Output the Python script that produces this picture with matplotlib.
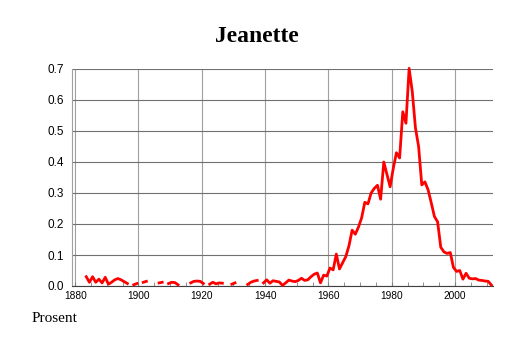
import numpy as np
from matplotlib import pyplot as plt
from matplotlib.ticker import MultipleLocator

###################DATA###################
title = "Jeanette"
ylabel = "Prosent"

years = np.arange(1880, 2012)
nan = np.nan
# share of girls given the name, in percent
percent = [
    nan, nan, nan, 0.030, 0.012, 0.030, 0.012, 0.022, 0.010, 0.028,   # 1880-1889
    0.006, 0.012, 0.020, 0.024, 0.020, 0.014, 0.008, nan, 0.004, 0.008,  # 1890-1899
    nan, 0.012, 0.015, nan, nan, nan, 0.010, 0.012, nan, 0.008,          # 1900-1909
    0.012, 0.011, 0.004, nan, nan, nan, 0.010, 0.015, 0.016, 0.015,      # 1910-1919
    0.008, nan, 0.006, 0.012, 0.007, 0.010, 0.009, nan, nan, 0.006,      # 1920-1929
    0.010, nan, nan, nan, 0.005, 0.012, 0.016, 0.018, nan, 0.010,        # 1930-1939
    0.020, 0.009, 0.017, 0.015, 0.013, 0.002, 0.010, 0.019, 0.016, 0.014,  # 1940-1949
    0.018, 0.025, 0.018, 0.020, 0.030, 0.038, 0.042, 0.010, 0.035, 0.032,  # 1950-1959
    0.058, 0.052, 0.103, 0.055, 0.075, 0.095, 0.130, 0.180, 0.167, 0.190,  # 1960-1969
    0.220, 0.270, 0.265, 0.300, 0.315, 0.325, 0.280, 0.400, 0.360, 0.320,  # 1970-1979
    0.380, 0.430, 0.413, 0.562, 0.525, 0.702, 0.627, 0.510, 0.450, 0.326,  # 1980-1989
    0.336, 0.310, 0.268, 0.224, 0.207, 0.125, 0.110, 0.105, 0.108, 0.060,  # 1990-1999
    0.047, 0.050, 0.022, 0.041, 0.025, 0.023, 0.024, 0.019, 0.018, 0.016,  # 2000-2009
    0.015, 0.003,                                                        # 2010-2011
]

###################PLOT###################
fig = plt.figure(figsize=(5.14, 3.43), dpi=100)
ax = fig.add_axes([72/514, 57/343, 421/514, 217/343])

# yearly values sit in the middle of each year
ax.plot(years + 0.5, percent, color='#ff0000', lw=2.0, clip_on=False, zorder=3)

ax.set_xlim(1879, 2012)
ax.set_ylim(0, 0.7)
ax.xaxis.set_major_locator(MultipleLocator(20))
ax.xaxis.set_minor_locator(MultipleLocator(5))
ax.yaxis.set_major_locator(MultipleLocator(0.1))
ax.set_yticklabels(["%.1f" % v for v in ax.get_yticks()])

ax.grid(axis='y', color='#707070', lw=0.8)
ax.grid(axis='x', color='#a0a0a0', lw=0.8)
ax.set_axisbelow(True)

for side in ['top', 'right']:
    ax.spines[side].set_visible(False)
ax.spines['left'].set_color('#a0a0a0')
ax.spines['left'].set_linewidth(0.8)
ax.spines['bottom'].set_color('#404040')
ax.spines['bottom'].set_linewidth(0.8)

ax.tick_params(axis='y', length=0, pad=6, labelsize=8.5, labelfontfamily='Liberation Sans')
ax.tick_params(axis='x', which='major', direction='in', length=3, pad=3.5,
               labelsize=7.3, labelfontfamily='Liberation Sans', color='#808080')
ax.tick_params(axis='x', which='minor', direction='in', length=3, color='#808080')

fig.text(0.5, 1 - 36/343, title, ha='center', va='center', fontsize=17,
         fontweight='bold', family='Liberation Serif')
fig.text(32/514, 1 - 319/343, ylabel, ha='left', va='center', fontsize=11,
         family='Liberation Serif')

plt.savefig("out.png", dpi=100)
